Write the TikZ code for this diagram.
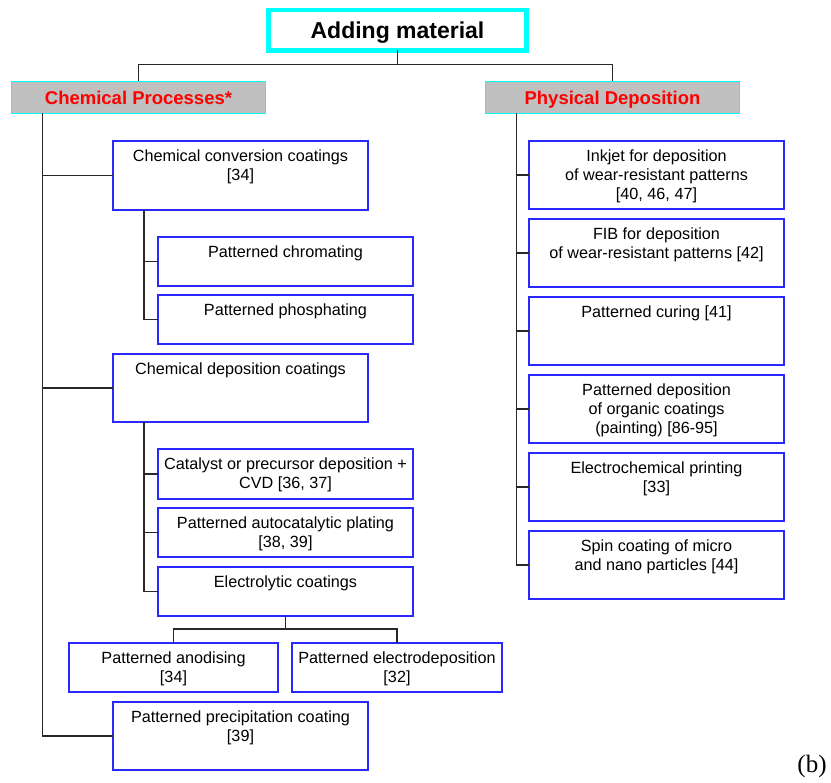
\documentclass[tikz,border=0pt]{standalone}
\usepackage{fontspec}
\setmainfont{Liberation Sans}
\newfontfamily\serifb{Liberation Serif}
\definecolor{cyanb}{RGB}{0,255,255}
\definecolor{boxblue}{RGB}{40,40,255}
\definecolor{catgray}{RGB}{192,192,192}
\definecolor{catred}{RGB}{255,0,0}
\definecolor{conn}{RGB}{40,40,40}
\tikzset{
  titlebox/.style={draw=cyanb, line width=4.5pt, fill=white, minimum width=258pt, minimum height=40.5pt,
    inner sep=0pt, outer sep=0pt, font=\bfseries\fontsize{23}{27}\selectfont, text height=16.5pt, text depth=0pt},
  catbox/.style={draw=cyanb, line width=1.5pt, fill=catgray, minimum width=254pt, minimum height=32pt,
    inner sep=0pt, outer sep=0pt, text=catred, font=\bfseries\fontsize{18.5}{22}\selectfont, text height=13.2pt, text depth=0pt},
  box/.style={draw=boxblue, line width=1.4pt, fill=white, inner sep=0pt, outer sep=0pt, anchor=north west},
  txt/.style={font=\fontsize{16.2}{19}\selectfont, align=center, inner sep=0pt},
  link/.style={draw=conn, line width=1.1pt}
}
\newcommand\bx[6]{%
  \node[box, minimum width=#4, minimum height=#5] (#1) at (#2,#3) {};
  \node[txt, below=9pt] (#1t) at (#1.north) {#6};}
\begin{document}
\begin{tikzpicture}[x=1pt,y=-1pt]
\useasboundingbox (0,0) rectangle (831,783);

% top
\node[titlebox] (title) at (397.5,30.25) {Adding material};
\node[catbox] (chem) at (138.5,97.5) {Chemical Processes*};
\node[catbox] (phys) at (612.5,97.5) {Physical Deposition};

% left column
\bx{conv}{113}{141}{255}{69}{Chemical conversion coatings\\{}[34]}
\bx{chrom}{158}{237}{255}{49}{Patterned chromating}
\bx{phos}{158}{295}{255}{49}{Patterned phosphating}
\bx{dep}{113}{354}{255}{68}{Chemical deposition coatings}
\bx{cat}{158}{449}{255}{50}{Catalyst or precursor deposition +\\CVD [36, 37]}
\bx{auto}{158}{508}{255}{49}{Patterned autocatalytic plating\\{}[38, 39]}
\bx{elec}{158}{567}{255}{49}{Electrolytic coatings}
\bx{anod}{69}{643}{209}{49}{Patterned anodising\\{}[34]}
\bx{edep}{292}{643}{210}{49}{Patterned electrodeposition\\{}[32]}
\bx{prec}{113}{702}{255}{68}{Patterned precipitation coating\\{}[39]}

% right column
\bx{ink}{529}{141}{255}{68}{Inkjet for deposition\\of wear-resistant patterns\\{}[40, 46, 47]}
\bx{fib}{529}{219}{255}{68}{FIB for deposition\\of wear-resistant patterns [42]}
\bx{cur}{529}{297}{255}{68}{Patterned curing [41]}
\bx{org}{529}{375}{255}{68}{Patterned deposition\\of organic coatings\\(painting) [86-95]}
\bx{ecp}{529}{453}{255}{68}{Electrochemical printing\\{}[33]}
\bx{spin}{529}{531}{255}{68}{Spin coating of micro\\and nano particles [44]}

% connectors: top
\draw[link] (title.south) -- ++(0,14) coordinate (tj);
\draw[link] (tj) -| (chem.north);
\draw[link] (tj) -| (phys.north);

% left trunk
\path (chem.south west) ++(31,0) coordinate (lt);
\draw[link] (lt) |- (prec.west);
\draw[link] (lt |- conv.west) -- (conv.west);
\draw[link] (lt |- dep.west) -- (dep.west);

% conversion sub-trunk
\path (conv.south west) ++(31,0) coordinate (ct);
\draw[link] (ct) |- (phos.west);
\draw[link] (ct |- chrom.west) -- (chrom.west);

% deposition sub-trunk
\path (dep.south west) ++(31,0) coordinate (dt);
\draw[link] (dt) |- (elec.west);
\draw[link] (dt |- cat.west) -- (cat.west);
\draw[link] (dt |- auto.west) -- (auto.west);

% electrolytic split
\draw[link] (elec.south) -- ++(0,13) coordinate (ej);
\draw[link] (ej) -| (anod.north);
\draw[link] (ej) -| (edep.north);

% right trunk
\path (phys.south west) ++(31,0) coordinate (rt);
\draw[link] (rt) |- (spin.west);
\foreach \n in {ink,fib,cur,org,ecp} \draw[link] (rt |- \n.west) -- (\n.west);

% label
\node[font=\serifb\fontsize{25}{28}\selectfont, anchor=base, inner sep=0pt] (lbl) at (812,772) {(b)};
\end{tikzpicture}
\end{document}
